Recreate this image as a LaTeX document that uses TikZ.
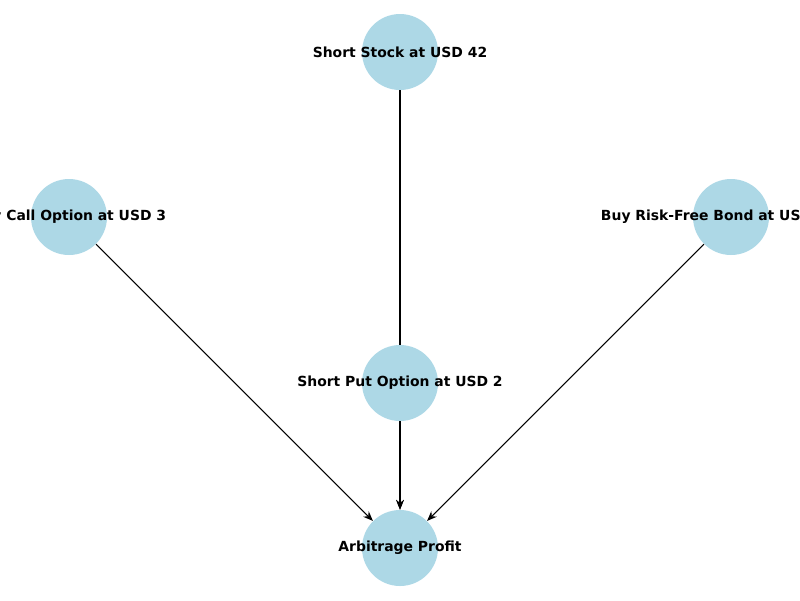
\documentclass[tikz,border=0pt]{standalone}
\usepackage{fontspec}
\setmainfont{DejaVu Sans}
\usepackage{tikz}
\usetikzlibrary{arrows.meta,backgrounds}
\definecolor{nodeBlue}{HTML}{ADD8E6}
\newcommand{\nodeRadius}{38}
\newcommand{\stepNames}{stock/400/52/Short Stock at USD 42, call/69/217/Buy Call Option at USD 3, bond/731/217/Buy Risk-Free Bond at USD 41.00, put/400/383/Short Put Option at USD 2, arb/400/548/Arbitrage Profit}
\tikzset{
	stepdot/.style={circle, fill=nodeBlue, draw=none, inner sep=0pt, minimum size=2*\nodeRadius*0.025cm},
	steplabel/.style={font=\fontsize{9.9}{12}\selectfont\bfseries, inner sep=0pt},
	edge/.style={line width=0.75pt, -{Stealth[length=7pt,width=5.5pt]}}
}
\begin{document}
\begin{tikzpicture}[x=0.025cm, y=-0.025cm]
	\useasboundingbox (0,0) rectangle (800,600);
	\clip (0,0) rectangle (800,600);
	
	\foreach \id/\px/\py/\name in \stepNames
	{
		\node[stepdot] (\id) at (\px,\py) {};
		\node[steplabel] at (\id) {\name};
	}
	
	\begin{scope}[on background layer]
		\foreach \src in {call, bond, stock, put}
		{
			\draw[edge] (\src) -- (arb);
		}
	\end{scope}
\end{tikzpicture}
\end{document}
